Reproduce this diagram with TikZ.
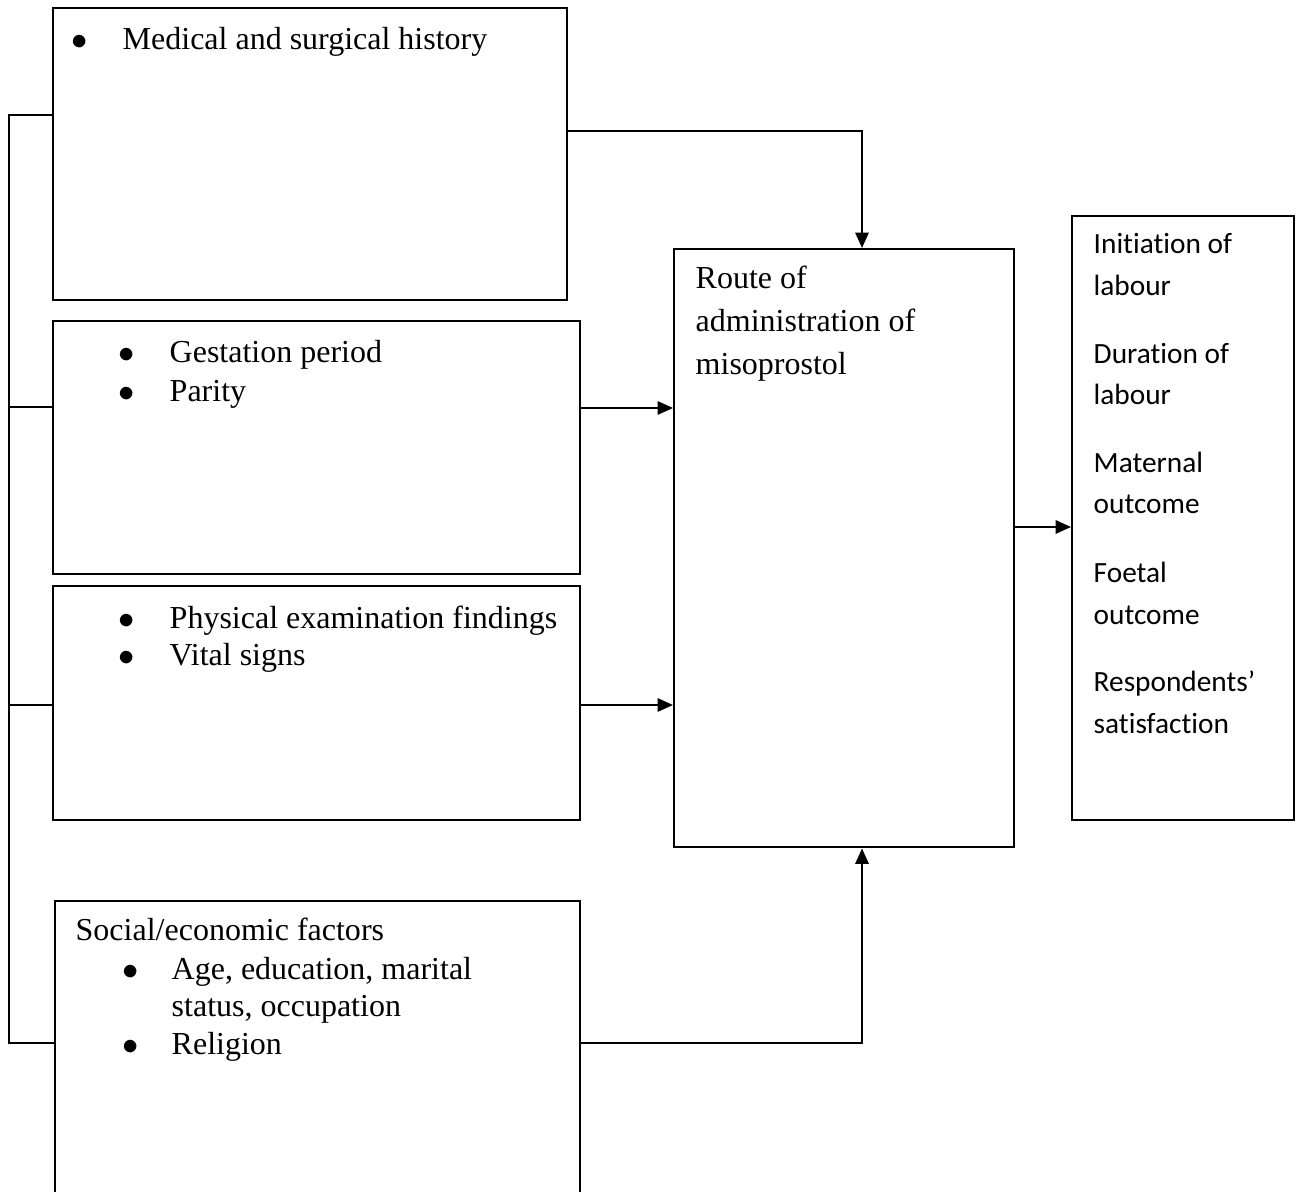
\documentclass[tikz,border=0pt]{standalone}
\usepackage{fontspec}
\setmainfont{Liberation Serif}
\newfontfamily\outfont[Ligatures=NoCommon]{Carlito}
\usetikzlibrary{arrows.meta}
\tikzset{
  font={\fontsize{9.1pt}{12pt}\selectfont}}

\begin{document}
\begin{tikzpicture}[x=0.01cm,y=-0.01cm]
\tikzstyle{every node}+=[inner sep=0pt]
\tikzstyle{factor}=[draw, line width=0.6pt, anchor=north west]
\tikzstyle{item}=[anchor=base west]
\tikzstyle{dot}=[anchor=base]
\tikzstyle{outcome}=[anchor=base west, font={\outfont\fontsize{8.34pt}{12pt}\selectfont}]
\tikzstyle{link}=[line width=0.6pt]
\tikzstyle{flow}=[line width=0.6pt, -{Triangle[length=4.4pt,width=3.8pt]}]
\path[use as bounding box, clip] (0,0) rectangle (1298,1192);
% boxes
\node[factor, minimum width=5.14cm, minimum height=2.92cm] (history) at (52,7) {};
\node[factor, minimum width=5.27cm, minimum height=2.53cm] (obstetric) at (52,320) {};
\node[factor, minimum width=5.27cm, minimum height=2.34cm] (exam) at (52,585) {};
\node[factor, minimum width=5.25cm, minimum height=3.00cm] (social) at (54,900) {};
\node[factor, minimum width=3.40cm, minimum height=5.98cm] (route) at (673,248) {};
\node[factor, minimum width=2.22cm, minimum height=6.04cm] (outcomes) at (1071,215) {};
% texts
\node[dot] (hdot) at (80,50) {$\bullet$};
\node[item] (htext) at (122,50) {Medical and surgical history};
\node[dot] (odot1) at (127,363) {$\bullet$};
\node[item] (otext1) at (169,363) {Gestation period};
\node[dot] (odot2) at (127,402) {$\bullet$};
\node[item] (otext2) at (169,402) {Parity};
\node[dot] (edot1) at (127,628) {$\bullet$};
\node[item] (etext1) at (169,628) {Physical examination findings};
\node[dot] (edot2) at (127,666) {$\bullet$};
\node[item] (etext2) at (169,666) {Vital signs};
\node[item] (stitle) at (75,940) {Social/economic factors};
\node[dot] (sdot1) at (131,979) {$\bullet$};
\node[item] (stext1) at (171,979) {Age, education, marital};
\node[item] (stext2) at (171,1016) {status, occupation};
\node[dot] (sdot2) at (131,1054) {$\bullet$};
\node[item] (stext3) at (171,1054) {Religion};
\node[item] (rtext1) at (695,289) {Route of};
\node[item] (rtext2) at (695,332) {administration of};
\node[item] (rtext3) at (695,375) {misoprostol};
\node[outcome] (otext1a) at (1093,254) {Initiation of};
\node[outcome] (otext1b) at (1093,296) {labour};
\node[outcome] (otext2a) at (1093,364) {Duration of};
\node[outcome] (otext2b) at (1093,405) {labour};
\node[outcome] (otext3a) at (1093,473) {Maternal};
\node[outcome] (otext3b) at (1093,514) {outcome};
\node[outcome] (otext4a) at (1093,583) {Foetal};
\node[outcome] (otext4b) at (1093,624) {outcome};
\node[outcome] (otext5a) at (1093,691) {Respondents’};
\node[outcome] (otext5b) at (1093,733) {satisfaction};
% connectors
\coordinate (s1) at (9,115);
\coordinate (s2) at (9,407);
\coordinate (s3) at (9,705);
\coordinate (s4) at (9,1043);
\draw[link] (history.west |- s1) -- (s1) -- (s4) -- (social.west |- s4);
\draw[link] (s2) -- (obstetric.west |- s2);
\draw[link] (s3) -- (exam.west |- s3);
\coordinate (top) at (862,131);
\coordinate (bottom) at (862,1043);
\coordinate (a2) at (620,408);
\coordinate (a3) at (620,705);
\coordinate (a5) at (1040,527);
\draw[flow] (history.east |- top) -- (top) -- (route.north -| top);
\draw[flow] (obstetric.east |- a2) -- (route.west |- a2);
\draw[flow] (exam.east |- a3) -- (route.west |- a3);
\draw[flow] (social.east |- bottom) -- (bottom) -- (route.south -| bottom);
\draw[flow] (route.east |- a5) -- (outcomes.west |- a5);
\end{tikzpicture}
\end{document}
